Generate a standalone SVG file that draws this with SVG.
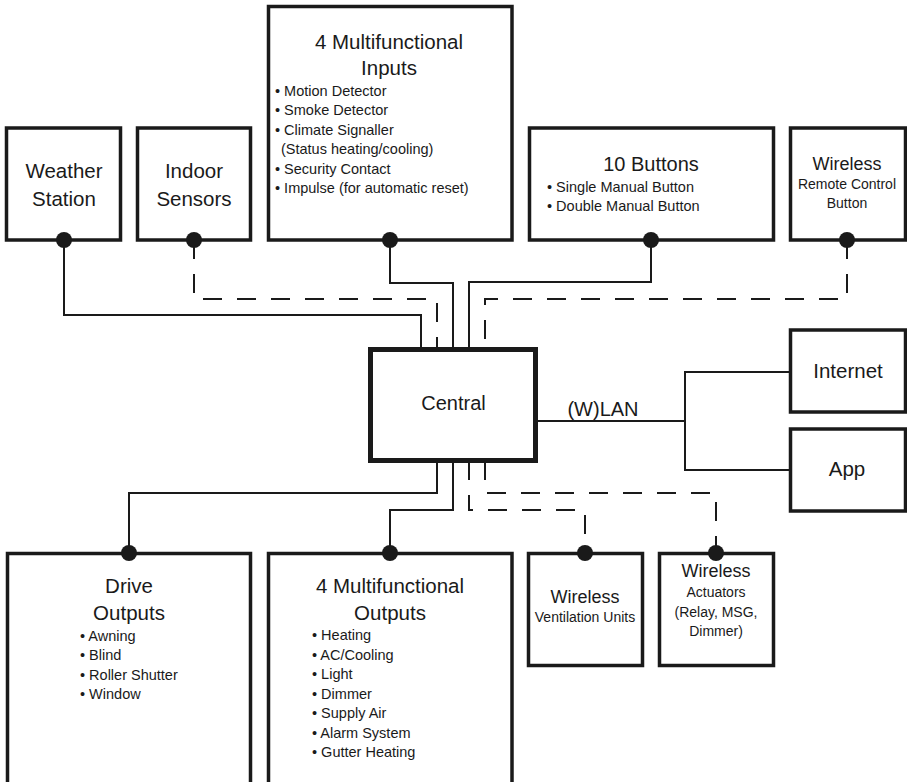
<svg xmlns="http://www.w3.org/2000/svg" width="907" height="782" viewBox="0 0 907 782">
<style>
.box{fill:#fff;stroke:#1a1a1a;stroke-width:3.5}
.cbox{fill:#fff;stroke:#1a1a1a;stroke-width:5}
.ln{fill:none;stroke:#1a1a1a;stroke-width:2}
.dash{fill:none;stroke:#1a1a1a;stroke-width:2;stroke-dasharray:19 15}
.dot{fill:#1a1a1a}
text{font-family:"Liberation Sans",Arial,sans-serif;fill:#1a1a1a}
.t{font-size:20.5px;text-anchor:middle}
.s{font-size:14.5px}
.sm{font-size:14px;text-anchor:middle}
.w{font-size:18px;text-anchor:middle}
</style>
<rect width="907" height="782" fill="#fff"/>
<g id="connectors">
<path class="ln" d="M64 240V315H421V349"/>
<path class="dash" d="M194 240V299H437V349"/>
<path class="ln" d="M390 240V283H453V349"/>
<path class="ln" d="M651 240V282H469V349"/>
<path class="dash" d="M847 240V299H485V349"/>
<path class="ln" d="M437 461V493H129V553"/>
<path class="ln" d="M453 461V510H390V553"/>
<path class="dash" d="M469 461V510H585V553"/>
<path class="dash" d="M485 461V493H716V553"/>
<path class="ln" d="M536 421H685"/>
<path class="ln" d="M789 372H685V470H789"/>
<text x="603" y="416" class="t" style="font-size:20px">(W)LAN</text>
</g>
<g id="weather">
<rect class="box" x="6.5" y="128" width="114" height="112"/>
<text class="t" x="64" y="178">Weather</text>
<text class="t" x="64" y="206">Station</text>
<circle class="dot" cx="64" cy="240" r="8"/>
</g>
<g id="indoor">
<rect class="box" x="137.5" y="128" width="113" height="112"/>
<text class="t" x="194" y="178">Indoor</text>
<text class="t" x="194" y="206">Sensors</text>
<circle class="dot" cx="194" cy="240" r="8"/>
</g>
<g id="inputs">
<rect class="box" x="268.5" y="6.5" width="243.5" height="233.5"/>
<text class="t" x="389" y="49">4 Multifunctional</text>
<text class="t" x="389" y="75">Inputs</text>
<text class="s" x="275" y="96">• Motion Detector</text>
<text class="s" x="275" y="115">• Smoke Detector</text>
<text class="s" x="275" y="135">• Climate Signaller</text>
<text class="s" x="281" y="154">(Status heating/cooling)</text>
<text class="s" x="275" y="174">• Security Contact</text>
<text class="s" x="275" y="193">• Impulse (for automatic reset)</text>
<circle class="dot" cx="390" cy="240" r="8"/>
</g>
<g id="buttons">
<rect class="box" x="529.5" y="128" width="244" height="112"/>
<text class="t" x="651" y="171" style="font-size:20px">10 Buttons</text>
<text class="s" x="547" y="192">• Single Manual Button</text>
<text class="s" x="547" y="211">• Double Manual Button</text>
<circle class="dot" cx="651" cy="240" r="8"/>
</g>
<g id="remote">
<rect class="box" x="790.5" y="128" width="115" height="112"/>
<text class="w" x="847" y="170">Wireless</text>
<text class="sm" x="847" y="189">Remote Control</text>
<text class="sm" x="847" y="208">Button</text>
<circle class="dot" cx="847" cy="240" r="8"/>
</g>
<g id="central">
<rect class="cbox" x="370.5" y="349.5" width="165" height="111"/>
<text class="t" x="453.5" y="410" style="font-size:20px">Central</text>
</g>
<g id="internet">
<rect class="box" x="790.5" y="330" width="115" height="82"/>
<text class="t" x="848" y="378">Internet</text>
</g>
<g id="app">
<rect class="box" x="790.5" y="429" width="115" height="82"/>
<text class="t" x="847" y="476">App</text>
</g>
<g id="drive">
<rect class="box" x="7.5" y="553.5" width="243" height="235"/>
<text class="t" x="129" y="593">Drive</text>
<text class="t" x="129" y="620">Outputs</text>
<text class="s" x="80" y="641">• Awning</text>
<text class="s" x="80" y="660">• Blind</text>
<text class="s" x="80" y="680">• Roller Shutter</text>
<text class="s" x="80" y="699">• Window</text>
<circle class="dot" cx="129" cy="553" r="8"/>
</g>
<g id="outputs">
<rect class="box" x="268.5" y="553.5" width="243.5" height="235"/>
<text class="t" x="390" y="593">4 Multifunctional</text>
<text class="t" x="390" y="620">Outputs</text>
<text class="s" x="312" y="640">• Heating</text>
<text class="s" x="312" y="660">• AC/Cooling</text>
<text class="s" x="312" y="679">• Light</text>
<text class="s" x="312" y="699">• Dimmer</text>
<text class="s" x="312" y="718">• Supply Air</text>
<text class="s" x="312" y="738">• Alarm System</text>
<text class="s" x="312" y="757">• Gutter Heating</text>
<circle class="dot" cx="390" cy="553" r="8"/>
</g>
<g id="ventilation">
<rect class="box" x="528.5" y="553.5" width="114" height="112"/>
<text class="w" x="585" y="603">Wireless</text>
<text class="sm" x="585" y="622">Ventilation Units</text>
<circle class="dot" cx="585" cy="553" r="8"/>
</g>
<g id="actuators">
<rect class="box" x="659.5" y="553.5" width="114" height="112"/>
<text class="w" x="716" y="577">Wireless</text>
<text class="sm" x="716" y="597">Actuators</text>
<text class="sm" x="716" y="617">(Relay, MSG,</text>
<text class="sm" x="716" y="636">Dimmer)</text>
<circle class="dot" cx="716" cy="553" r="8"/>
</g>
</svg>
